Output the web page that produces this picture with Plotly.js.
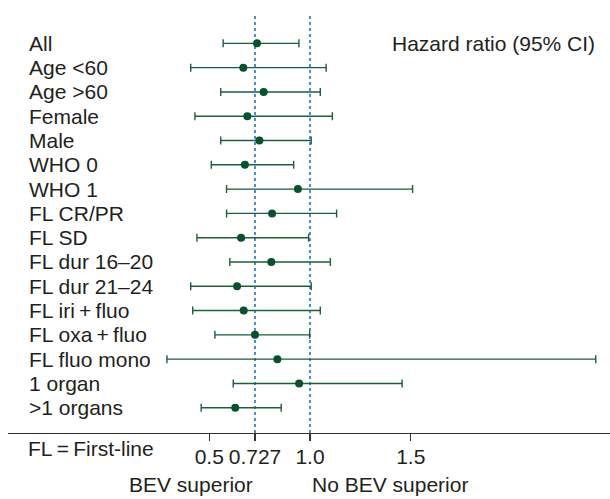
<!DOCTYPE html>
<html>
<head>
<meta charset="utf-8">
<script src="https://cdn.plot.ly/plotly-3.0.1.min.js"></script>
<style>
html,body{margin:0;padding:0;background:#fff;}
#chart{width:610px;height:499px;}
</style>
</head>
<body>
<div id="chart"></div>
<script>
// Data
var categories = ["All", "Age <60", "Age >60", "Female", "Male", "WHO 0", "WHO 1",
  "FL CR/PR", "FL SD", "FL dur 16\u201320", "FL dur 21\u201324",
  "FL iri\u2009+\u2009fluo", "FL oxa\u2009+\u2009fluo", "FL fluo mono", "1 organ", ">1 organs"];
var hr    = [0.737, 0.669, 0.770, 0.689, 0.749, 0.677, 0.940, 0.812, 0.658, 0.808, 0.638, 0.671, 0.727, 0.838, 0.946, 0.629];
var ciLow = [0.569, 0.408, 0.557, 0.429, 0.557, 0.510, 0.586, 0.586, 0.439, 0.602, 0.408, 0.418, 0.528, 0.290, 0.619, 0.460];
var ciHigh= [0.945, 1.080, 1.051, 1.111, 1.006, 0.919, 1.509, 1.132, 0.993, 1.101, 1.006, 1.051, 0.998, 2.418, 1.457, 0.857];
var tickValues = [0.5, 0.727, 1.0, 1.5];
var tickLabels = ["0.5", "0.727", "1.0", "1.5"];
var refLines = [0.727, 1.0];

var FONT = "Liberation Sans, Arial, Helvetica, sans-serif";
var TXT = "#231f20";
var FS = 21;

var rowIdx = categories.map(function(_, i){ return i; });
var plus = hr.map(function(v, i){ return ciHigh[i] - v; });
var minus = hr.map(function(v, i){ return v - ciLow[i]; });

var trace = {
  type: "scatter",
  mode: "markers",
  x: hr,
  y: rowIdx,
  marker: {size: 8, color: "#06522a"},
  error_x: {
    type: "data", symmetric: false,
    array: plus, arrayminus: minus,
    color: "#1d5f38", thickness: 1.4, width: 4
  },
  hoverinfo: "skip",
  showlegend: false
};

var annotations = categories.map(function(c, i){
  return {xref: "paper", yref: "y", x: (27 - 8) / 602, y: i,
    xanchor: "left", yanchor: "middle", text: c, showarrow: false,
    font: {family: FONT, size: FS, color: TXT}};
});
annotations.push({xref: "paper", yref: "y", x: (597 - 8) / 602, y: 0,
  xanchor: "right", yanchor: "middle", text: "Hazard ratio (95% CI)", showarrow: false,
  font: {family: FONT, size: FS, color: TXT}});
annotations.push({xref: "paper", yref: "paper", x: (26 - 8) / 602, y: (433.3 - 448.5) / 420,
  xanchor: "left", yanchor: "middle", text: "FL\u2009=\u2009First-line", showarrow: false,
  font: {family: FONT, size: FS, color: TXT}});
annotations.push({xref: "x", yref: "paper", x: refLines[0], y: (433.3 - 498.5) / 420,
  xanchor: "right", yanchor: "bottom", text: "BEV superior", showarrow: false,
  font: {family: FONT, size: FS, color: TXT}});
annotations.push({xref: "x", yref: "paper", x: refLines[1], y: (433.3 - 498.5) / 420,
  xanchor: "left", yanchor: "bottom", text: "No BEV superior", showarrow: false,
  font: {family: FONT, size: FS, color: TXT}});

var shapes = refLines.map(function(v){
  return {type: "line", xref: "x", yref: "paper", x0: v, x1: v, y0: 0, y1: 1,
    line: {color: "#1f74c4", width: 1.6, dash: "dot"}, layer: "below"};
});

var layout = {
  width: 610, height: 499,
  margin: {l: 8, r: 0, t: 13, b: 66, pad: 0},
  paper_bgcolor: "#ffffff", plot_bgcolor: "#ffffff",
  font: {family: FONT, size: FS, color: TXT},
  xaxis: {
    range: [1 - 302 / 201.5, 1 + 300 / 201.5],
    tickmode: "array", tickvals: tickValues, ticktext: tickLabels,
    ticks: "outside", ticklen: 7, tickwidth: 1.2, tickcolor: "#333",
    ticklabelstandoff: -3,
    showline: true, linecolor: "#333", linewidth: 1.3,
    showgrid: false, zeroline: false,
    tickfont: {family: FONT, size: FS, color: TXT},
    fixedrange: true
  },
  yaxis: {
    range: [16.04, -1.25],
    showticklabels: false, showgrid: false, zeroline: false, showline: false,
    ticks: "", fixedrange: true
  },
  shapes: shapes,
  annotations: annotations,
  showlegend: false
};

Plotly.newPlot("chart", [trace], layout, {displayModeBar: false, staticPlot: true});
</script>
</body>
</html>
